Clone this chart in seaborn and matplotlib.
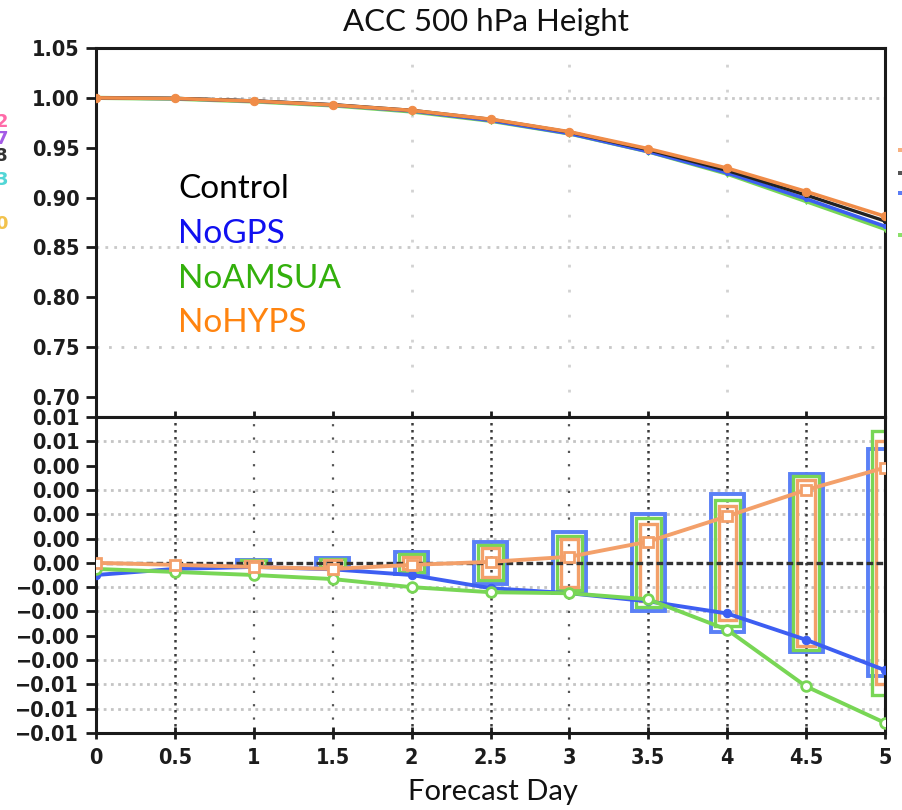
import numpy as np
import pandas as pd
import matplotlib
matplotlib.use("Agg")
import matplotlib.pyplot as plt
import seaborn as sns
from matplotlib.patches import Rectangle

# ---------------- data ----------------
days = [0, 0.5, 1, 1.5, 2, 2.5, 3, 3.5, 4, 4.5, 5]
series_names = ["Control", "NoGPS", "NoAMSUA", "NoHYPS"]

acc_control = [1.000, 0.9995, 0.9970, 0.9932, 0.9875, 0.9785, 0.9657, 0.9480, 0.9272, 0.9025, 0.8765]
acc_nogps   = [1.000, 0.9993, 0.9968, 0.9928, 0.9869, 0.9773, 0.9642, 0.9461, 0.9247, 0.8987, 0.8712]
acc_noamsua = [1.000, 0.9991, 0.9964, 0.9924, 0.9863, 0.9770, 0.9642, 0.9462, 0.9239, 0.8964, 0.8686]
acc_nohyps  = [1.000, 0.9994, 0.9968, 0.9929, 0.9874, 0.9786, 0.9660, 0.9490, 0.9295, 0.9061, 0.8812]

diff_control = [0.0, 0.0, 0.0, 0.0, 0.0, 0.0, 0.0, 0.0, 0.0, 0.0, 0.0]
diff_nogps   = [-0.0006, -0.0003, -0.0002, -0.00032, -0.0006, -0.00125, -0.0015, -0.0019, -0.0025, -0.0038, -0.0053]
diff_noamsua = [-0.0003, -0.00045, -0.0006, -0.0008, -0.0012, -0.00145, -0.0015, -0.0018, -0.0033, -0.0061, -0.0079]
diff_nohyps  = [0.0, -0.0001, -0.0002, -0.0003, -0.0001, 0.00005, 0.0003, 0.00105, 0.0023, 0.0036, 0.0047]

# half-heights of the significance boxes (symmetric about zero)
ci_nogps   = [0.0, 0.0, 0.00014, 0.00024, 0.00054, 0.00102, 0.0015, 0.0024, 0.0034, 0.0044, 0.0056]
ci_noamsua = [0.0, 0.0, 0.00012, 0.00020, 0.00044, 0.00086, 0.00134, 0.0022, 0.0031, 0.0043, 0.0065]
ci_nohyps  = [0.0, 0.0, 0.00008, 0.00015, 0.00030, 0.00072, 0.0012, 0.0019, 0.0028, 0.0041, 0.0060]

top_yticks = [1.05, 1.00, 0.95, 0.90, 0.85, 0.80, 0.75, 0.70]
top_yticklabels = ["1.05", "1.00", "0.95", "0.90", "0.85", "0.80", "0.75", "0.70"]
bot_yticks = [0.0072, 0.0060, 0.0048, 0.0036, 0.0024, 0.0012, 0.0, -0.0012, -0.0024, -0.0036, -0.0048, -0.0060, -0.0072, -0.0084]
bot_yticklabels = ["0.01", "0.01", "0.00", "0.00", "0.00", "0.00", "0.00",
                   "\u22120.00", "\u22120.00", "\u22120.00", "\u22120.00", "\u22120.01", "\u22120.01", "\u22120.01"]
xticks = days
xticklabels = ["0", "0.5", "1", "1.5", "2", "2.5", "3", "3.5", "4", "4.5", "5"]

title = "ACC 500 hPa Height"
xlabel = "Forecast Day"

# ---------------- style ----------------
sns.set_theme(style="white")
plt.rcParams["font.family"] = ["DejaVu Sans"]

W, H = 902, 810
fig = plt.figure(figsize=(W / 100, H / 100), dpi=100)

def fx(px):
    return px / W

def fy(py):
    return 1 - py / H

X0, X1 = 96, 885
ax1 = fig.add_axes([fx(X0), fy(417), fx(X1) - fx(X0), fy(48) - fy(417)])
ax2 = fig.add_axes([fx(X0), fy(733), fx(X1) - fx(X0), fy(417) - fy(733)])

c_blue = "#3d5ef2"
c_blue_box = "#5a80f6"
c_green = "#78d655"
c_orange = "#f3a06a"
c_orange_top = "#f08c48"

# ---------------- top panel ----------------
ax1.set_xlim(0, 5)
ax1.set_ylim(0.68, 1.05)
for yv, pat in [(1.00, (0, (1, 1.6))), (0.85, (0, (1, 2.2))), (0.75, (0, (1, 3.5)))]:
    ax1.axhline(yv, color="#c9c9c9", lw=2, ls=pat, zorder=0)
for xv in [2, 3, 4]:
    ax1.axvline(xv, color="#d2d2d2", lw=2, ls=(0, (1, 8)), zorder=0)

top_df = pd.DataFrame({
    "day": days * 4,
    "acc": acc_noamsua + acc_nogps + acc_control + acc_nohyps,
    "exp": ["NoAMSUA"] * 11 + ["NoGPS"] * 11 + ["Control"] * 11 + ["NoHYPS"] * 11,
})
top_styles = {
    "NoAMSUA": dict(color=c_green, marker="v", ms=5, lw=3.0),
    "NoGPS": dict(color=c_blue, marker="o", ms=3, lw=2.6),
    "Control": dict(color="#222222", marker="o", ms=3, lw=2.4),
    "NoHYPS": dict(color=c_orange_top, marker="o", ms=6, lw=2.6),
}
for name in ["NoAMSUA", "NoGPS", "Control", "NoHYPS"]:
    st = top_styles[name]
    sns.lineplot(data=top_df[top_df["exp"] == name], x="day", y="acc", ax=ax1,
                 color=st["color"], lw=st["lw"], marker=st["marker"], markersize=st["ms"],
                 markeredgecolor=st["color"], legend=False, zorder=3)

ax1.set_yticks(top_yticks)
ax1.set_yticklabels(top_yticklabels)
ax1.set_xticks(xticks)
ax1.set_xticklabels([])
ax1.set_xlabel("")
ax1.set_ylabel("")

# ---------------- bottom panel ----------------
ax2.set_xlim(0, 5)
ax2.set_ylim(-0.0084, 0.0072)
for yv in [0.0060, 0.0036, 0.0024, 0.0012, -0.0012, -0.0024, -0.0048, -0.0060, -0.0072]:
    ax2.axhline(yv, color="#c4c4c4", lw=2, ls=(0, (1, 1.6)), zorder=0)
for xv in [0.5, 2, 2.5, 3.5, 4, 4.5]:
    ax2.axvline(xv, color="#3a3a3a", lw=1.8, ls=(0, (1, 1.8)), zorder=0.5)
for xv in [1, 1.5, 3]:
    ax2.axvline(xv, color="#555555", lw=1.6, ls=(0, (1, 5)), zorder=0.5)

# significance boxes
box_specs = [(ci_nogps, c_blue_box, 0.21, 2.8), (ci_noamsua, c_green, 0.16, 2.4), (ci_nohyps, c_orange, 0.11, 2.4)]
for ci, col, width, lw in box_specs:
    ci_arr = np.array(ci)
    mask = ci_arr > 0
    ax2.bar(np.array(days)[mask], 2 * ci_arr[mask], bottom=-ci_arr[mask], width=width,
            fill=False, edgecolor=col, linewidth=lw, zorder=1.5)

bot_df = pd.DataFrame({
    "day": days * 4,
    "diff": diff_control + diff_nogps + diff_noamsua + diff_nohyps,
    "exp": ["Control"] * 11 + ["NoGPS"] * 11 + ["NoAMSUA"] * 11 + ["NoHYPS"] * 11,
})
sns.lineplot(data=bot_df[bot_df["exp"] == "Control"], x="day", y="diff", ax=ax2,
             color="#333333", lw=2.4, ls=(0, (2, 1)), legend=False, zorder=2)
sns.lineplot(data=bot_df[bot_df["exp"] == "NoGPS"], x="day", y="diff", ax=ax2,
             color=c_blue, lw=2.8, marker="o", markersize=6, markeredgecolor=c_blue,
             legend=False, zorder=3)
sns.lineplot(data=bot_df[bot_df["exp"] == "NoAMSUA"], x="day", y="diff", ax=ax2,
             color=c_green, lw=2.8, marker="o", markersize=7, markerfacecolor="white",
             markeredgecolor=c_green, markeredgewidth=2, legend=False, zorder=3.2)
sns.lineplot(data=bot_df[bot_df["exp"] == "NoHYPS"], x="day", y="diff", ax=ax2,
             color=c_orange, lw=2.8, marker="s", markersize=7, markerfacecolor="white",
             markeredgecolor=c_orange, markeredgewidth=2, legend=False, zorder=3.4)

ax2.set_yticks(bot_yticks)
ax2.set_yticklabels(bot_yticklabels)
ax2.set_xticks(xticks)
ax2.set_xticklabels(xticklabels)
ax2.set_xlabel("")
ax2.set_ylabel("")

# ---------------- axes cosmetics ----------------
tick_font = dict(family=["DejaVu Sans"], weight="bold", size=15.5, stretch="condensed")
for ax in (ax1, ax2):
    for s in ax.spines.values():
        s.set_visible(True)
        s.set_color("#1a1a1a")
        s.set_linewidth(2.2)
    ax.tick_params(axis="y", which="major", direction="out", length=7, width=2,
                   color="#1a1a1a", left=True, right=False, pad=5)
    ax.tick_params(axis="x", which="major", direction="inout", length=9, width=2,
                   color="#1a1a1a", bottom=True, top=False, pad=6)
    for lab in ax.get_yticklabels() + ax.get_xticklabels():
        lab.set_fontproperties(matplotlib.font_manager.FontProperties(**tick_font))
        lab.set_color("#1c1c1c")
    ax.set_facecolor("white")

# title and axis label
text_font = ["Lato", "DejaVu Sans"]
fig.text(fx(486), fy(22), title, ha="center", va="center", fontsize=22.5,
         family=text_font, color="#111111")
fig.text(fx(493), fy(792), xlabel, ha="center", va="center", fontsize=21,
         family=text_font, color="#111111")

# in-plot legend texts
legend_items = [("Control", "#000000", 198), ("NoGPS", "#1010f0", 243),
                ("NoAMSUA", "#33b00c", 288), ("NoHYPS", "#ff8410", 332)]
for txt, col, base in legend_items:
    fig.text(fx(178), fy(base), txt, ha="left", va="baseline", fontsize=24,
             family=text_font, color=col)

# cut-off fragments at the figure edges (as in the source image)
left_frags = [("2", "#ff6aa8", 122), ("7", "#a45be6", 139), ("8", "#333333", 156),
              ("3", "#52d6d6", 180), ("0", "#f2c24c", 224)]
for ch, col, yy in left_frags:
    fig.text(fx(8), fy(yy), ch, ha="right", va="center", fontsize=13,
             weight="bold", color=col, family=["DejaVu Sans"])
right_frags = [("#f7b080", 150), ("#555555", 173), ("#5a7cf5", 193), ("#8be06a", 235)]
for col, yy in right_frags:
    fig.add_artist(Rectangle((fx(898), fy(yy + 2)), 4 / W, 4 / H,
                             transform=fig.transFigure, color=col, lw=0))

fig.savefig("out.png", dpi=100, facecolor="white")
